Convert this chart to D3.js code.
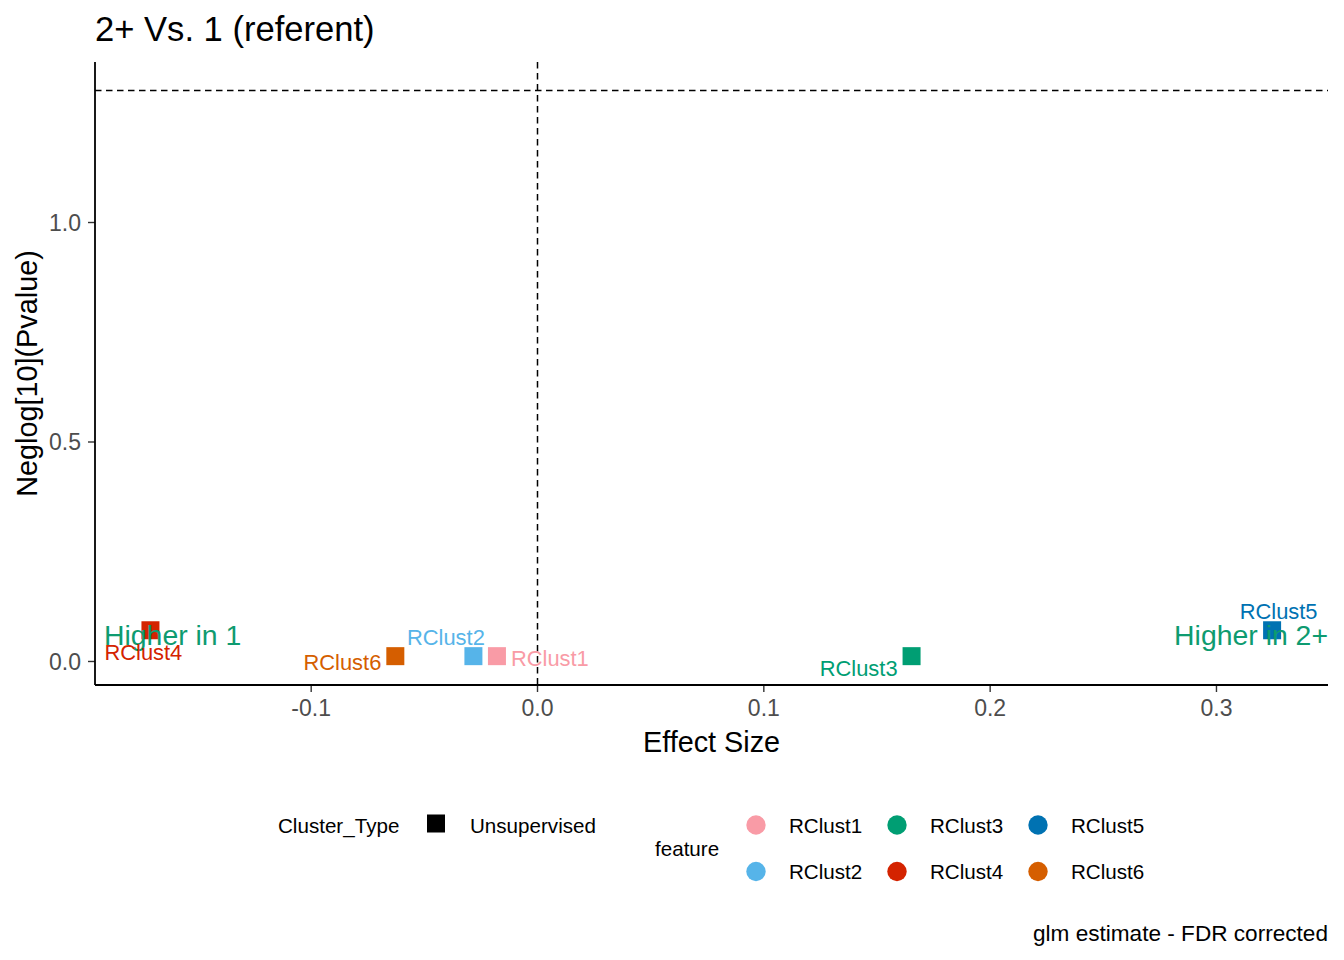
<!DOCTYPE html>
<html>
<head>
<meta charset="utf-8">
<script src="https://cdn.jsdelivr.net/npm/d3@7"></script>
<style>
  html, body { margin: 0; padding: 0; background: #fff; }
  text { font-family: "Liberation Sans", Arial, sans-serif; }
</style>
</head>
<body>
<svg id="chart" width="1344" height="960"></svg>
<script>
// ---- data ----
const features = ["RClust1", "RClust2", "RClust3", "RClust4", "RClust5", "RClust6"];
const effectSize = [-0.0177, -0.0281, 0.1655, -0.1708, 0.3248, -0.0626];
const negLogP = [0.011, 0.011, 0.011, 0.07, 0.07, 0.011];
const featureColors = ["#F99BA6", "#56B4E9", "#009E73", "#D42300", "#0072B2", "#D55E00"];
const xTicks = [-0.1, 0.0, 0.1, 0.2, 0.3];
const yTicks = [0.0, 0.5, 1.0];
const clusterTypes = ["Unsupervised"];
const pThreshold = 1.301; // -log10(0.05)

// ---- layout ----
const panel = { left: 95, right: 1328, top: 62, bottom: 685 };
const svg = d3.select("#chart");

const x = d3.scaleLinear().domain([-0.1953, 0.3495]).range([panel.left, panel.right]);
const y = d3.scaleLinear().domain([-0.0547, 1.3645]).range([panel.bottom, panel.top]);

const font = '"Liberation Sans", Arial, sans-serif';
const fmt = d => d3.format(".1f")(d).replace("\u2212", "-");

// title
svg.append("text").attr("x", 95).attr("y", 41)
  .attr("font-size", 34.6).attr("fill", "#000").text("2+ Vs. 1 (referent)");

// reference lines
svg.append("line")
  .attr("x1", panel.left).attr("x2", panel.right)
  .attr("y1", Math.round(y(pThreshold)) + 0.5).attr("y2", Math.round(y(pThreshold)) + 0.5)
  .attr("stroke", "#000").attr("stroke-width", 1.5).attr("stroke-dasharray", "6.5,4.5");
svg.append("line")
  .attr("x1", Math.round(x(0)) + 0.5).attr("x2", Math.round(x(0)) + 0.5)
  .attr("y1", panel.top).attr("y2", panel.bottom)
  .attr("stroke", "#000").attr("stroke-width", 1.5).attr("stroke-dasharray", "6.5,4.5");

// axes
const xAxis = d3.axisBottom(x).tickValues(xTicks).tickFormat(fmt).tickSize(7).tickPadding(6);
const gx = svg.append("g").attr("transform", `translate(0,${panel.bottom})`).call(xAxis);
const yAxis = d3.axisLeft(y).tickValues(yTicks).tickFormat(fmt).tickSize(7).tickPadding(6);
const gy = svg.append("g").attr("transform", `translate(${panel.left},0)`).call(yAxis);
[gx, gy].forEach(g => {
  g.select(".domain").remove();
  g.selectAll(".tick line").attr("stroke", "#333").attr("stroke-width", 1.4);
  g.selectAll(".tick text").attr("fill", "#4D4D4D").attr("font-size", 23).attr("font-family", font);
});
gx.selectAll(".tick text").attr("dy", "0.71em").attr("y", 15);
gy.selectAll(".tick text").attr("x", -14).attr("dy", "0.36em");

svg.append("line").attr("x1", panel.left).attr("x2", panel.right)
  .attr("y1", panel.bottom).attr("y2", panel.bottom).attr("stroke", "#000").attr("stroke-width", 1.8);
svg.append("line").attr("x1", panel.left).attr("x2", panel.left)
  .attr("y1", panel.top).attr("y2", panel.bottom).attr("stroke", "#000").attr("stroke-width", 1.8);

// axis titles
svg.append("text").attr("x", (panel.left + panel.right) / 2).attr("y", 752)
  .attr("text-anchor", "middle").attr("font-size", 28.8).text("Effect Size");
svg.append("text")
  .attr("transform", `translate(37,${(panel.top + panel.bottom) / 2}) rotate(-90)`)
  .attr("text-anchor", "middle").attr("font-size", 28.8).text("Neglog[10](Pvalue)");

// points
const pts = features.map((f, i) => ({ f, x: effectSize[i], y: negLogP[i], c: featureColors[i] }));
const sq = 18;
svg.append("g").selectAll("rect").data(pts).join("rect")
  .attr("x", d => x(d.x) - sq / 2).attr("y", d => y(d.y) - sq / 2)
  .attr("width", sq).attr("height", sq).attr("fill", d => d.c);

// annotations (drawn above the points)
svg.append("text").attr("x", panel.left + 9).attr("y", 645)
  .attr("font-size", 28.4).attr("fill", "#0E9B70").text("Higher in 1");
svg.append("text").attr("x", panel.right).attr("y", 645).attr("text-anchor", "end")
  .attr("font-size", 28.4).attr("fill", "#0E9B70").text("Higher in 2+");

// point labels (repelled positions, pixel offsets from point)
const labelLayout = {
  RClust1: { dx: 14, dy: 10, anchor: "start" },
  RClust2: { dx: -27.5, dy: -11, anchor: "middle" },
  RClust3: { dx: -14, dy: 20, anchor: "end" },
  RClust4: { dx: -46, dy: 29.5, anchor: "start" },
  RClust5: { dx: 6.5, dy: -11, anchor: "middle" },
  RClust6: { dx: -14, dy: 14, anchor: "end" }
};
svg.append("g").selectAll("text").data(pts).join("text")
  .attr("x", d => x(d.x) + labelLayout[d.f].dx)
  .attr("y", d => y(d.y) + labelLayout[d.f].dy)
  .attr("text-anchor", d => labelLayout[d.f].anchor)
  .attr("font-size", 21.9).attr("fill", d => d.c).text(d => d.f);

// legend: Cluster_Type
const lg = svg.append("g");
lg.append("text").attr("x", 278).attr("y", 832.5).attr("font-size", 20.6).text("Cluster_Type");
clusterTypes.forEach((t, i) => {
  lg.append("rect").attr("x", 427).attr("y", 814.5).attr("width", 18).attr("height", 18).attr("fill", "#000");
  lg.append("text").attr("x", 470).attr("y", 832.5).attr("font-size", 20.6).text(t);
});

// legend: feature
lg.append("text").attr("x", 655).attr("y", 856).attr("font-size", 20.6).text("feature");
features.forEach((f, i) => {
  const col = Math.floor(i / 2), row = i % 2;
  const cx = 756 + col * 141, cy = 825 + row * 46.5;
  lg.append("circle").attr("cx", cx).attr("cy", cy).attr("r", 9.7).attr("fill", featureColors[i]);
  lg.append("text").attr("x", cx + 33).attr("y", cy + 7.5).attr("font-size", 20.6).text(f);
});

// caption
svg.append("text").attr("x", 1328).attr("y", 941).attr("text-anchor", "end")
  .attr("font-size", 22.6).text("glm estimate - FDR corrected");
</script>
</body>
</html>
